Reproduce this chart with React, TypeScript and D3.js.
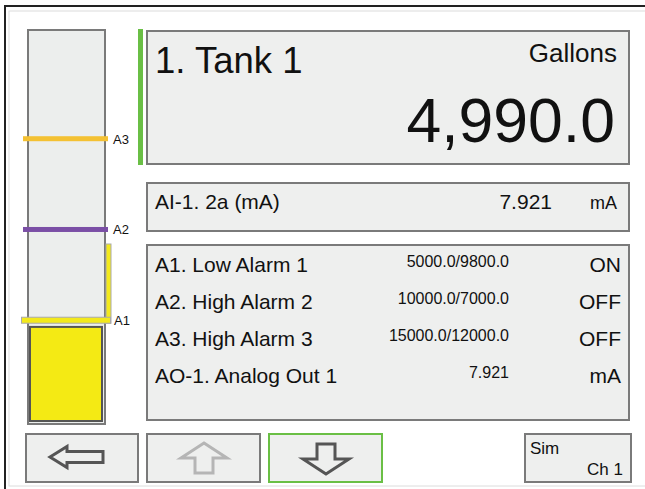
import React from "react";
import * as d3 from "d3";

// tank reading
const tankName = "1. Tank 1";
const tankUnit = "Gallons";
const tankLevel = 4990;

// analog input
const inputName = "AI-1. 2a (mA)";
const inputValue = 7.921;
const inputUnit = "mA";

// alarms + output rows
const rowLabels = ["A1. Low Alarm 1", "A2. High Alarm 2", "A3. High Alarm 3", "AO-1. Analog Out 1"];
const rowSet = [5000, 10000, 15000, null];
const rowReset = [9800, 7000, 12000, null];
const rowValue = [null, null, null, 7.921];
const rowState = ["ON", "OFF", "OFF", "mA"];

// alarm marks on the tank
const markNames = ["A1", "A2", "A3"];
const markValues = [5000, 10000, 15000];
const markColors = ["#f3e91c", "#7b4fa6", "#f4c133"];
const a1BandTop = 9200; // top of the A1 side bar, as drawn

const FONT = "'Liberation Sans', Arial, Helvetica, sans-serif";
const PANEL = "#eeefee";
const EDGE = "#7a7a7a";

const y = d3.scaleLinear().domain([0, 21000]).range([411, 29.8]);
const f1 = d3.format(".1f");
const fLevel = d3.format(",.1f");

function Arrow({ dir, cx, cy, color }: { dir: string; cx: number; cy: number; color: string }) {
  let pts: [number, number][];
  if (dir === "left") {
    pts = [[-27, 0], [-10, -10.5], [-10, -5.5], [26, -5.5], [26, 5.5], [-10, 5.5], [-10, 10.5]];
  } else {
    const s = dir === "up" ? 1 : -1;
    pts = [[0, -15 * s], [23 * s, 0], [9 * s, 0], [9 * s, 15 * s], [-9 * s, 15 * s], [-9 * s, 0], [-23 * s, 0]];
  }
  const line = d3.line<[number, number]>().x(d => cx + d[0]).y(d => cy + d[1]);
  return <path d={line(pts) + "Z"} fill="none" stroke={color} strokeWidth={3} strokeLinejoin="miter" />;
}

export default function App() {
  const rowY = (i: number) => 272 + i * 37;
  return (
    <svg width={645} height={489} style={{ position: "absolute", left: 0, top: 0 }} fontFamily={FONT}>
      <rect x={0} y={0} width={645} height={489} fill="#ffffff" />
      {/* window frame */}
      <rect x={5} y={6} width={660} height={500} fill="none" stroke="#222" strokeWidth={2} />
      <rect x={9} y={11} width={660} height={475} fill="none" stroke="#dcdcdc" strokeWidth={1} />

      {/* tank column */}
      <rect x={28} y={30} width={77} height={394} fill="#eceeed" stroke={EDGE} strokeWidth={2} />
      <rect x={30} y={y(tankLevel) + 6.5} width={72} height={421 - y(tankLevel) - 6.5}
        fill="#f4ea14" stroke="#555" strokeWidth={2} />
      {/* A1 side band */}
      <rect x={106} y={y(a1BandTop)} width={5} height={y(markValues[0]) + 3 - y(a1BandTop)}
        fill={markColors[0]} stroke="#aaa" strokeWidth={1} />
      {markValues.map((v, i) => (
        <g key={markNames[i]}>
          {i === 0 ? (
            <rect x={21.5} y={y(v) - 3} width={89} height={6} fill={markColors[i]} stroke="#aaa" strokeWidth={1} />
          ) : (
            <rect x={23} y={y(v) - 2.5} width={85} height={5} fill={markColors[i]} />
          )}
          <text x={i === 0 ? 114 : 113} y={y(v) + 5} fontSize={13} fill="#111">{markNames[i]}</text>
        </g>
      ))}

      {/* green status bar */}
      <rect x={138} y={29} width={5} height={136} fill="#6abf45" />

      {/* main reading */}
      <rect x={147} y={31} width={482} height={133} fill={PANEL} stroke={EDGE} strokeWidth={2} />
      <text x={155} y={73} fontSize={36.5} fill="#111">{tankName}</text>
      <text x={617} y={62} fontSize={26} textAnchor="end" fill="#111">{tankUnit}</text>
      <text x={615} y={142} fontSize={62.5} textAnchor="end" fill="#111">{fLevel(tankLevel)}</text>

      {/* analog input */}
      <rect x={147} y={183} width={482} height={48} fill={PANEL} stroke={EDGE} strokeWidth={2} />
      <text x={155} y={209} fontSize={21} fill="#111">{inputName}</text>
      <text x={552} y={209} fontSize={21} textAnchor="end" fill="#111">{d3.format(".3f")(inputValue)}</text>
      <text x={617} y={209} fontSize={18} textAnchor="end" fill="#111">{inputUnit}</text>

      {/* alarm list */}
      <rect x={147} y={245} width={482} height={175} fill={PANEL} stroke={EDGE} strokeWidth={2} />
      {rowLabels.map((lab, i) => {
        const mid = rowSet[i] !== null ? `${f1(rowSet[i] as number)}/${f1(rowReset[i] as number)}` : d3.format(".3f")(rowValue[i] as number);
        return (
          <g key={lab}>
            <text x={155} y={rowY(i)} fontSize={21} fill="#111">{lab}</text>
            <text x={509} y={rowY(i) - 5} fontSize={16} textAnchor="end" fill="#111">{mid}</text>
            <text x={621} y={rowY(i)} fontSize={21} textAnchor="end" fill="#111">{rowState[i]}</text>
          </g>
        );
      })}

      {/* buttons */}
      <rect x={26} y={434} width={112} height={48} fill={PANEL} stroke={EDGE} strokeWidth={2} />
      <Arrow dir="left" cx={77} cy={457} color="#555" />
      <rect x={147} y={434} width={113} height={48} fill={PANEL} stroke={EDGE} strokeWidth={2} />
      <Arrow dir="up" cx={204} cy={458} color="#b5b5b5" />
      <rect x={269} y={434} width={113} height={48} fill={PANEL} stroke="#6abf45" strokeWidth={2} />
      <Arrow dir="down" cx={326} cy={459} color="#555" />
      <rect x={525} y={434} width={106} height={48} fill={PANEL} stroke={EDGE} strokeWidth={2} />
      <text x={530} y={454} fontSize={17} fill="#111">Sim</text>
      <text x={623} y={475} fontSize={17} textAnchor="end" fill="#111">Ch 1</text>
    </svg>
  );
}
